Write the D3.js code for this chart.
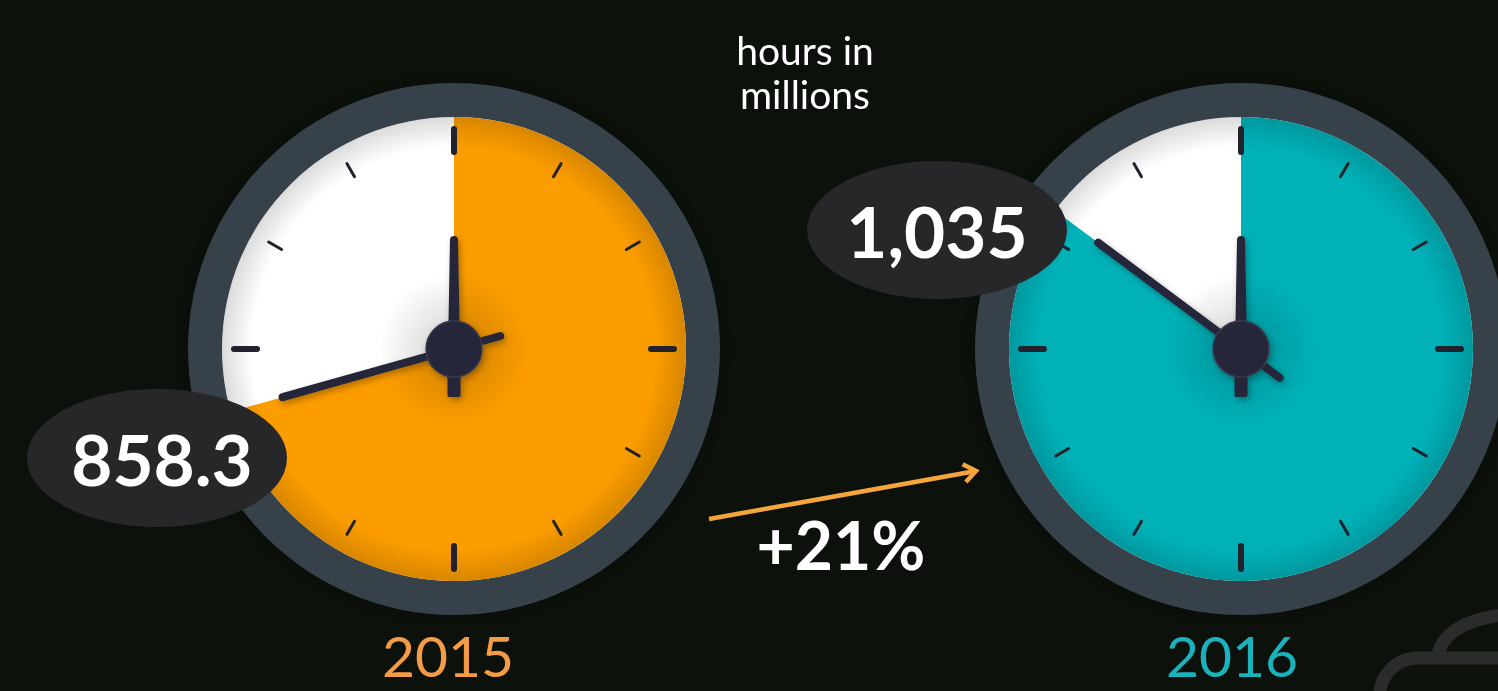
<!DOCTYPE html>
<html>
<head>
<meta charset="utf-8">
<script src="https://cdn.jsdelivr.net/npm/d3@7"></script>
<style>
  html, body { margin: 0; padding: 0; background: #0c110b; overflow: hidden; }
  svg { display: block; font-family: Lato, "Open Sans", sans-serif; }
</style>
</head>
<body>
<svg width="1498" height="691"></svg>
<script>
// data
const years = ["2015", "2016"];
const hours = [858.3, 1035];
const hourLabels = ["858.3", "1,035"];
const unitLines = ["hours in", "millions"];
const changeLabel = "+21%";

const faceColors = ["#fb9c00", "#00b1b8"];
const yearColors = ["#f49b45", "#1ab3bc"];

var svg = d3.select("svg"),
  ringR = 266,
  faceR = 232;

// full turn of the dial
var angle = d3.scaleLinear().domain([0, 1215]).range([0, 2 * Math.PI]);
var tickAngle = d3.scaleLinear().domain([0, 12]).range([0, 360]);

// clock / label placement
var layout = [
  { cx: 454, cy: 349, lx: 157, ly: 458, tx: 162, yx: 448 },
  { cx: 1241, cy: 349, lx: 937, ly: 230, tx: 937, yx: 1232 }
];

var defs = svg.append("defs");

var faceShade = defs.append("radialGradient").attr("id", "faceShade");
faceShade.append("stop").attr("offset", "0").attr("stop-color", "#000").attr("stop-opacity", 0);
faceShade.append("stop").attr("offset", "0.87").attr("stop-color", "#000").attr("stop-opacity", 0);
faceShade.append("stop").attr("offset", "1").attr("stop-color", "#000").attr("stop-opacity", 0.14);

var hubShade = defs.append("radialGradient").attr("id", "hubShade");
hubShade.append("stop").attr("offset", "0.35").attr("stop-color", "#000").attr("stop-opacity", 0.12);
hubShade.append("stop").attr("offset", "1").attr("stop-color", "#000").attr("stop-opacity", 0);

var ringShade = defs.append("radialGradient").attr("id", "ringShade");
ringShade.append("stop").attr("offset", "0.9").attr("stop-color", "#000").attr("stop-opacity", 0.35);
ringShade.append("stop").attr("offset", "1").attr("stop-color", "#000").attr("stop-opacity", 0);

defs.append("filter").attr("id", "drop")
  .attr("x", "-50%").attr("y", "-50%").attr("width", "200%").attr("height", "200%")
  .append("feDropShadow")
  .attr("dx", 2).attr("dy", 3).attr("stdDeviation", 3)
  .attr("flood-color", "#000").attr("flood-opacity", 0.3);

// ===========================================================================
// CLOUD ICON (bottom right)
// ===========================================================================
svg.append("path")
  .attr("d", "M1380 700 A38 38 0 0 1 1418 658 L1510 658 M1437 660 C1440 632 1468 618 1510 614")
  .attr("fill", "none")
  .attr("stroke", "#2a2b2b")
  .attr("stroke-width", 13);

// ===========================================================================
// CLOCKS
// ===========================================================================
var clocks = svg.selectAll(".clock")
  .data(hours)
  .enter()
  .append("g")
  .attr("class", "clock")
  .attr("transform", (d, i) => "translate(" + layout[i].cx + "," + layout[i].cy + ")");

clocks.append("circle").attr("r", ringR + 14).attr("fill", "url(#ringShade)");
clocks.append("circle").attr("r", ringR).attr("fill", "#37414a");
clocks.append("circle").attr("r", faceR).attr("fill", "#ffffff");

var arc = d3.arc().innerRadius(0).outerRadius(faceR).startAngle(0);
clocks.append("path")
  .attr("d", (d) => arc({ endAngle: angle(d) }))
  .attr("fill", (d, i) => faceColors[i]);

clocks.append("circle").attr("r", faceR).attr("fill", "url(#faceShade)");
clocks.append("circle").attr("r", 75).attr("fill", "url(#hubShade)");

// tick marks
clocks.each(function () {
  d3.select(this).selectAll(".tick")
    .data(d3.range(12))
    .enter()
    .append("line")
    .attr("class", "tick")
    .attr("transform", (t) => "rotate(" + tickAngle(t) + ")")
    .attr("x1", 0).attr("x2", 0)
    .attr("y1", (t) => (t % 3 === 0 ? -220 : -214))
    .attr("y2", (t) => (t % 3 === 0 ? -197 : -199))
    .attr("stroke", "#22222c")
    .attr("stroke-width", (t) => (t % 3 === 0 ? 6 : 3))
    .attr("stroke-linecap", "round");
});

// hands
var hands = clocks.append("g").attr("filter", "url(#drop)");

// hour hand follows the value
hands.append("line")
  .attr("transform", (d) => "rotate(" + (angle(d) * 180) / Math.PI + ")")
  .attr("x1", 0).attr("x2", 0)
  .attr("y1", 48).attr("y2", -178)
  .attr("stroke", "#25253a")
  .attr("stroke-width", 8)
  .attr("stroke-linecap", "round");

// minute hand at twelve
hands.append("path")
  .attr("d", "M-6 0 L-4 -109 A4 4 0 0 1 4 -109 L6 0 Z")
  .attr("fill", "#25253a");
hands.append("rect")
  .attr("x", -6.5).attr("y", 0)
  .attr("width", 13).attr("height", 48)
  .attr("rx", 2)
  .attr("fill", "#25253a");

hands.append("circle")
  .attr("r", 28)
  .attr("fill", "#25253a")
  .attr("stroke", "#3a3a4e")
  .attr("stroke-width", 1.5);

// ===========================================================================
// VALUE LABELS
// ===========================================================================
svg.selectAll(".bubble")
  .data(hourLabels)
  .enter()
  .append("ellipse")
  .attr("class", "bubble")
  .attr("cx", (d, i) => layout[i].lx)
  .attr("cy", (d, i) => layout[i].ly)
  .attr("rx", 130)
  .attr("ry", 69)
  .attr("fill", "#272729");

svg.selectAll(".value")
  .data(hourLabels)
  .enter()
  .append("text")
  .attr("class", "value")
  .attr("x", (d, i) => layout[i].tx)
  .attr("y", (d, i) => layout[i].ly + 28)
  .attr("text-anchor", "middle")
  .attr("fill", "#ffffff")
  .attr("font-size", 71)
  .attr("font-weight", 700)
  .text((d) => d);

svg.selectAll(".year")
  .data(years)
  .enter()
  .append("text")
  .attr("class", "year")
  .attr("x", (d, i) => layout[i].yx)
  .attr("y", 677)
  .attr("text-anchor", "middle")
  .attr("fill", (d, i) => yearColors[i])
  .attr("font-size", 57)
  .text((d) => d);

// ===========================================================================
// UNITS + CHANGE
// ===========================================================================
svg.append("text")
  .attr("x", 805)
  .attr("text-anchor", "middle")
  .attr("fill", "#ffffff")
  .attr("font-size", 39)
  .selectAll("tspan")
  .data(unitLines)
  .enter()
  .append("tspan")
  .attr("x", 805)
  .attr("y", (d, i) => 65 + i * 44)
  .text((d) => d);

var a0 = [709, 519], a1 = [976, 471];
var dir = Math.atan2(a1[1] - a0[1], a1[0] - a0[0]);
var head = [-0.65, 0.65].map((o) => [a1[0] - 15 * Math.cos(dir + o), a1[1] - 15 * Math.sin(dir + o)]);

svg.append("path")
  .attr("d", d3.line()([a0, a1]) + d3.line()([head[0], a1, head[1]]))
  .attr("fill", "none")
  .attr("stroke", "#f5a53b")
  .attr("stroke-width", 4.5)
  .attr("stroke-linejoin", "miter");

svg.append("text")
  .attr("x", 841)
  .attr("y", 570)
  .attr("text-anchor", "middle")
  .attr("fill", "#ffffff")
  .attr("font-size", 66)
  .attr("font-weight", 700)
  .text(changeLabel);
</script>
</body>
</html>
